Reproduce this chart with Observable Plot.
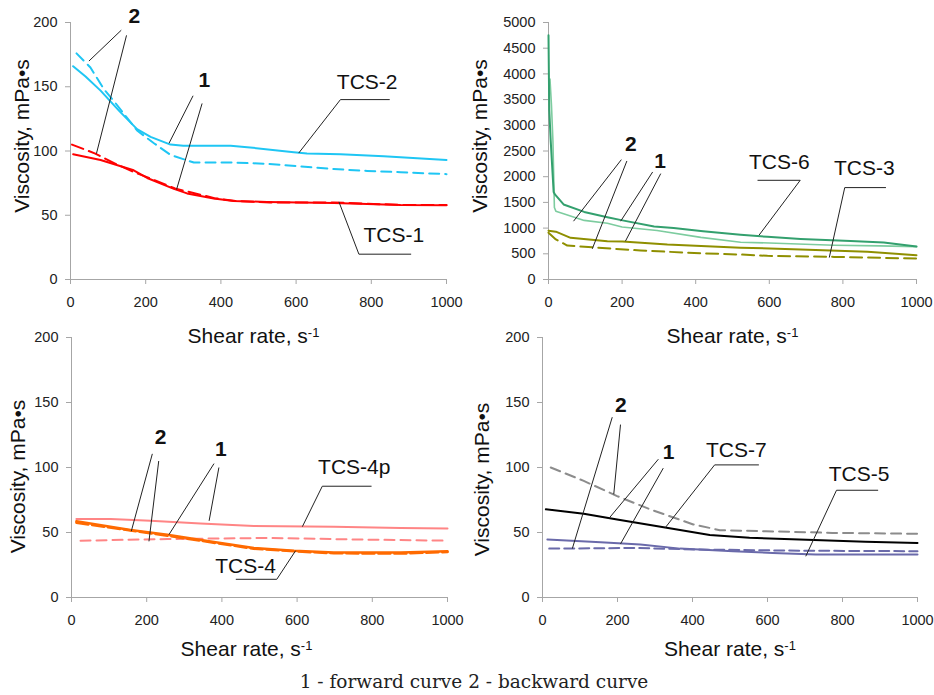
<!DOCTYPE html>
<html>
<head>
<meta charset="utf-8">
<script src="https://cdn.jsdelivr.net/npm/d3@7"></script>
<script src="https://cdn.jsdelivr.net/npm/@observablehq/plot@0.6"></script>
<style>
  html, body { margin: 0; padding: 0; background: #fff; }
  #wrap { position: relative; width: 934px; height: 695px; background: #fff; overflow: hidden; }
  .pan { position: absolute; }
  #cap { position: absolute; left: 7px; top: 670px; width: 934px; text-align: center;
         font-family: "DejaVu Serif", "Liberation Serif", serif; font-size: 18.5px; line-height: 24px; color: #222; }
</style>
</head>
<body>
<div id="wrap">
  <div class="pan" id="p1" style="left:0px;top:0px"></div>
  <div class="pan" id="p2" style="left:467px;top:0px"></div>
  <div class="pan" id="p3" style="left:0px;top:330px"></div>
  <div class="pan" id="p4" style="left:467px;top:330px"></div>
  <div id="cap">1 - forward curve 2 - backward curve</div>
</div>
<script>
// ---------- tick labels ----------
const xTicks = [0, 200, 400, 600, 800, 1000];
const yTicksLow = [0, 50, 100, 150, 200];
const yTicksHigh = [0, 500, 1000, 1500, 2000, 2500, 3000, 3500, 4000, 4500, 5000];
const xTitle = "Shear rate, s";
const yTitle = "Viscosity, mPa•s";

// ---------- panel 1: TCS-1, TCS-2 ----------
const tcs2Fwd = [[7,166],[40,158],[80,147],[130,131],[177,117],[213,111],[266,105],[300,104],[426,104],[470,103],[594,99],[629,98],[718,97.5],[833,96],[1000,93]];
const tcs2Bwd = [[16,176],[53,165],[89,148],[115,139],[150,126],[177,116],[222,106],[266,97],[328,91],[434,91],[523,90],[612,88],[700,86],[789,84.5],[878,83.5],[1000,82]];
const tcs1Fwd = [[7,97.5],[80,93],[168,85],[204,79],[275,70.5],[310,67],[381,63],[434,61],[523,60.4],[700,59.6],[878,58],[1000,57.8]];
const tcs1Bwd = [[4,105],[66,98],[120,90],[173,83],[205,79.5],[278,70.8],[383,63.3],[440,61],[530,60],[700,60],[880,58],[1000,58]];
const p1Leaders = [[135,194,49,170],[149,190,69,98],[326,143,262,106],[350,137,282,70],[718,140,849,140],[718,140,607,98.4],[767,19.7,906,19.7],[767,19.7,714,60.4]];
const p1Labels = [["2",170,205,true],["1",356,155,true],["TCS-2",789,153.6,false],["TCS-1",860,34.5,false]];

// ---------- panel 2: TCS-3, TCS-6 ----------
const tcs6Fwd = [[0,4750],[2,3300],[6,2700],[14,1700],[18,1650],[41,1460],[97,1315],[160,1212],[201,1150],[287,1030],[340,1000],[420,940],[522,870],[595,830],[685,790],[821,750],[911,720],[1000,640]];
const tcs6Bwd = [[4,3900],[8,3400],[12,2700],[16,1400],[20,1330],[41,1280],[97,1150],[160,1095],[200,1020],[295,953],[414,820],[522,726],[600,710],[776,667],[900,655],[1000,640]];
const tcs3Fwd = [[0,950],[20,930],[60,811],[160,745],[201,740],[323,680],[522,620],[685,585],[867,538],[1000,473]];
const tcs3Bwd = [[0,910],[20,780],[51,661],[123,623],[250,564],[414,510],[522,486],[595,460],[776,440],[1000,408]];
const p2Leaders = [[198,2332,68,1134],[213,2306,119,597],[283,2092,196,1134],[305,2060,209,745],[568,1930,684,1930],[684,1930,572,861],[805,1788,917,1788],[805,1788,763,427]];
const p2Labels = [["2",224,2630,true],["1",303,2306,true],["TCS-6",627,2286,false],["TCS-3",858,2157,false]];

// ---------- panel 3: TCS-4, TCS-4p ----------
const tcs4pFwd = [[13,60.4],[104,60.4],[210,59],[343,57],[485,55],[698,54.5],[876,53.5],[1000,53]];
const tcs4pBwd = [[24,43.7],[255,45],[521,45.8],[787,44.5],[1000,43.7]];
const tcs4Fwd = [[13,58.6],[157,52],[255,48.3],[370,43],[485,38],[592,36],[698,34.7],[876,34.7],[1000,35.5]];
const tcs4Bwd = [[13,57.5],[157,51.5],[255,47.5],[370,42.5],[485,37.5],[592,35.5],[698,34],[876,33.8],[1000,35]];
const p3Leaders = [[215,110.5,159,51],[232,105,206,43.2],[379,103,259,48.3],[392,100,366,59],[667,85.6,798,85.6],[667,85.6,614,54.5],[437,14,546,14],[546,14,596,36]];
const p3Labels = [["2",237,123,true],["1",397,114,true],["TCS-4p",752,100,false],["TCS-4",463,24.4,false]];

// ---------- panel 4: TCS-5, TCS-7 ----------
const tcs7Fwd = [[9,67.8],[110,64.4],[199,60],[331,53.6],[446,48],[552,45.9],[685,44.6],[861,42.8],[1000,42]];
const tcs7Bwd = [[22,100],[110,89.7],[199,78],[287,67.8],[402,56.2],[473,51.8],[596,51],[773,49.7],[1000,49]];
const tcs5Fwd = [[13,44.6],[155,42.5],[261,40.7],[367,37.6],[508,35.6],[614,34.3],[729,33],[1000,33]];
const tcs5Bwd = [[18,37.6],[243,38.1],[420,36.9],[685,36],[1000,35.6]];
const p4Leaders = [[186,138.7,79.5,37.6],[208,133,190,79.4],[309,106.4,177,60.8],[322,99.5,208,41.2],[459,102,577,102],[459,102,327,53.6],[784,82.5,895,82.5],[784,82.5,702,31.7]];
const p4Labels = [["2",209,147.7,true],["1",336,111.6,true],["TCS-7",517,113,false],["TCS-5",844,94.8,false]];

const AX = "#a6a6a6";

function panel(c) {
  const marks = [
    Plot.ruleX([0], {stroke: AX}),
    Plot.ruleY([0], {stroke: AX}),
    Plot.axisX({ticks: xTicks, tickSize: 5, tickPadding: 12, fontSize: 14.5, stroke: AX, fill: "#222", label: null, tickFormat: d3.format("d")}),
    Plot.axisY({ticks: c.yTicks, tickSize: 5, tickPadding: 8, fontSize: 14.5, stroke: AX, fill: "#222", label: null, tickFormat: d3.format("d")}),
    ...c.series.map(s => Plot.line(s.data, {x: d => d[0], y: d => d[1], stroke: s.color, strokeWidth: s.width, strokeDasharray: s.dash || null})),
    Plot.link(c.leaders, {x1: d => d[0], y1: d => d[1], x2: d => d[2], y2: d => d[3], stroke: "#222", strokeWidth: 1}),
    Plot.text(c.labels.filter(d => !d[3]), {x: d => d[1], y: d => d[2], text: d => d[0], fontSize: 21, fill: "#111"}),
    Plot.text(c.labels.filter(d => d[3]), {x: d => d[1], y: d => d[2], text: d => d[0], fontSize: 21, fontWeight: "bold", fill: "#111"}),
    Plot.text([yTitle], {text: d => d, frameAnchor: "left", textAnchor: "middle", lineAnchor: "middle", rotate: -90, dx: c.ydx, dy: c.ydy, fontSize: 21, fill: "#111"}),
    Plot.text([xTitle], {text: d => d, frameAnchor: "bottom", textAnchor: "middle", lineAnchor: "middle", dx: c.xdx, dy: c.xdy, fontSize: 21, fill: "#111"})
  ];
  const svg = Plot.plot({
    width: 467, height: c.height,
    marginLeft: c.ml, marginRight: c.mr, marginTop: c.mt, marginBottom: c.mb,
    x: {domain: [0, 1000]},
    y: {domain: c.yDomain},
    style: {fontFamily: "'Liberation Sans', Arial, sans-serif", background: "transparent", overflow: "visible"},
    marks
  });
  svg.querySelectorAll("text").forEach(t => {
    if (t.textContent === xTitle) {
      const ts = document.createElementNS("http://www.w3.org/2000/svg", "tspan");
      ts.setAttribute("dy", "-0.5em");
      ts.setAttribute("font-size", "13");
      ts.textContent = "-1";
      t.appendChild(ts);
    }
  });
  document.getElementById(c.id).appendChild(svg);
}

panel({id: "p1", height: 360, ml: 70, mr: 21, mt: 22, mb: 81, yDomain: [0, 200], yTicks: yTicksLow,
  ydx: -48, ydy: -15, xdx: -5, xdy: 57,
  series: [
    {data: tcs2Fwd, color: "#1fc6f4", width: 2},
    {data: tcs2Bwd, color: "#1fc6f4", width: 2, dash: "10,6"},
    {data: tcs1Fwd, color: "#ff0000", width: 2},
    {data: tcs1Bwd, color: "#ff0000", width: 2, dash: "12,6"}
  ], leaders: p1Leaders, labels: p1Labels});

panel({id: "p2", height: 360, ml: 81, mr: 18, mt: 22, mb: 81, yDomain: [0, 5000], yTicks: yTicksHigh,
  ydx: -68, ydy: -15, xdx: 0, xdy: 57,
  series: [
    {data: tcs6Bwd, color: "#7dcc9f", width: 1.6},
    {data: tcs6Fwd, color: "#33a06e", width: 2},
    {data: tcs3Fwd, color: "#8f8f00", width: 2},
    {data: tcs3Bwd, color: "#8f8f00", width: 2, dash: "12,6"}
  ], leaders: p2Leaders, labels: p2Labels});

panel({id: "p3", height: 340, ml: 71, mr: 20, mt: 7, mb: 73, yDomain: [0, 200], yTicks: yTicksLow,
  ydx: -53, ydy: 9, xdx: -13, xdy: 52,
  series: [
    {data: tcs4pFwd, color: "#ff8585", width: 2},
    {data: tcs4pBwd, color: "#ff8585", width: 2, dash: "10,6"},
    {data: tcs4Bwd, color: "#ff6a00", width: 2.5, dash: "12,4"},
    {data: tcs4Fwd, color: "#ff6a00", width: 2.5}
  ], leaders: p3Leaders, labels: p3Labels});

panel({id: "p4", height: 340, ml: 75, mr: 17, mt: 7, mb: 73, yDomain: [0, 200], yTicks: yTicksLow,
  ydx: -60, ydy: 12, xdx: 0, xdy: 52,
  series: [
    {data: tcs7Bwd, color: "#8c8c8c", width: 2, dash: "10,6"},
    {data: tcs7Fwd, color: "#000000", width: 2},
    {data: tcs5Fwd, color: "#6a6aaa", width: 2},
    {data: tcs5Bwd, color: "#6a6aaa", width: 2, dash: "10,5"}
  ], leaders: p4Leaders, labels: p4Labels});
</script>
</body>
</html>
